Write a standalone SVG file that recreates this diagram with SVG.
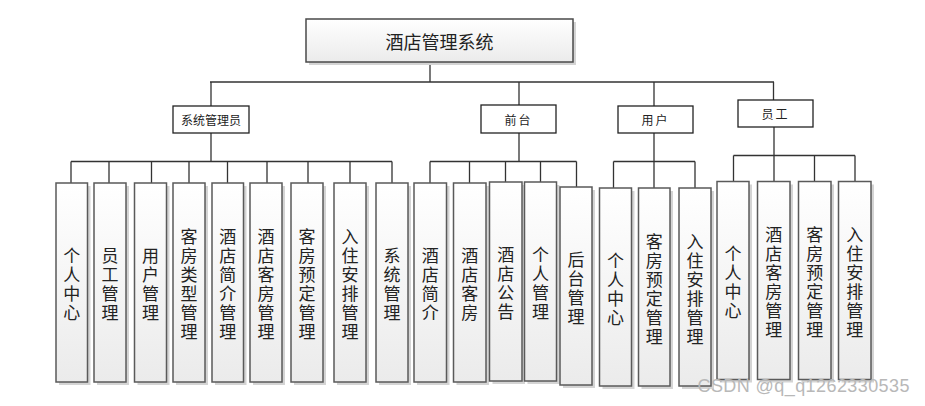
<svg xmlns="http://www.w3.org/2000/svg" width="925" height="406" viewBox="0 0 925 406">
<defs>
<linearGradient id="g" x1="0" y1="0" x2="0" y2="1">
<stop offset="0" stop-color="#ffffff"/>
<stop offset="1" stop-color="#ebebeb"/>
</linearGradient>
</defs>
<style>
text{font-family:"Noto Sans CJK SC","Liberation Sans",sans-serif;fill:#222;text-anchor:middle;dominant-baseline:central}
.leaf rect.b{fill:url(#g);stroke:#5a5a5a;stroke-width:1.5}
.sh{fill:#d4d4d4}
.leaf text{font-size:17px}
.l2 rect{fill:#fff;stroke:#222;stroke-width:1.3}
.l2 text{font-size:12px}
#conn path{fill:none;stroke:#333;stroke-width:1.3}
</style>
<rect width="925" height="406" fill="#fff"/>

<g id="conn">
<path d="M430 62V82M210 82H774M211 82V106M519 82V105M654 82V106M773.5 82V100"/>
<path d="M211 133V161.5M71 161.5H392M71 161.5V183M109 161.5V183M151.5 161.5V183M189 161.5V183M227.5 161.5V183M267 161.5V183M308 161.5V183M350 161.5V183M392 161.5V183"/>
<path d="M519 133V161.5M430 161.5H576.5M430 161.5V183M469.5 161.5V183M505.5 161.5V182M540.5 161.5V182M576.5 161.5V187"/>
<path d="M654 133V161.5M613.5 161.5H695M613.5 161.5V188M654 161.5V188M695 161.5V188"/>
<path d="M774 127V155.5M733.5 155.5H855M733.5 155.5V181.5M774 155.5V181.5M814.5 155.5V181.5M855 155.5V181.5"/>
</g>

<g id="root">
<rect x="309" y="22" width="267" height="43" class="sh"/>
<rect x="306" y="19" width="267" height="43" fill="url(#g)" stroke="#4a4a4a" stroke-width="1.5"/>
<text x="439.5" y="41" font-size="18">酒店管理系统</text>
</g>

<g id="admin" class="l2"><rect x="173" y="106" width="76" height="27"/><text x="211" y="119.5">系统管理员</text></g>
<g id="front" class="l2"><rect x="481" y="105" width="75" height="28"/><text x="518.5" y="119" letter-spacing="2">前台</text></g>
<g id="user" class="l2"><rect x="618" y="106" width="75" height="27"/><text x="655.5" y="119.5" letter-spacing="2">用户</text></g>
<g id="staff" class="l2"><rect x="738" y="100" width="75" height="27"/><text x="775.5" y="113.5" letter-spacing="2">员工</text></g>

<g id="a1" class="leaf"><rect class="sh" x="59" y="186" width="31.5" height="199"/><rect class="b" x="56" y="183" width="31.5" height="199"/><text x="71.75" y="282.5"><tspan x="71.75" dy="-28.5">个</tspan><tspan x="71.75" dy="19">人</tspan><tspan x="71.75" dy="19">中</tspan><tspan x="71.75" dy="19">心</tspan></text></g>
<g id="a2" class="leaf"><rect class="sh" x="97" y="186" width="32" height="199"/><rect class="b" x="94" y="183" width="32" height="199"/><text x="110" y="282.5"><tspan x="110" dy="-28.5">员</tspan><tspan x="110" dy="19">工</tspan><tspan x="110" dy="19">管</tspan><tspan x="110" dy="19">理</tspan></text></g>
<g id="a3" class="leaf"><rect class="sh" x="137.5" y="186" width="32" height="199"/><rect class="b" x="134.5" y="183" width="32" height="199"/><text x="150.5" y="282.5"><tspan x="150.5" dy="-28.5">用</tspan><tspan x="150.5" dy="19">户</tspan><tspan x="150.5" dy="19">管</tspan><tspan x="150.5" dy="19">理</tspan></text></g>
<g id="a4" class="leaf"><rect class="sh" x="176" y="186" width="32" height="199"/><rect class="b" x="173" y="183" width="32" height="199"/><text x="189" y="282.5"><tspan x="189" dy="-47.5">客</tspan><tspan x="189" dy="19">房</tspan><tspan x="189" dy="19">类</tspan><tspan x="189" dy="19">型</tspan><tspan x="189" dy="19">管</tspan><tspan x="189" dy="19">理</tspan></text></g>
<g id="a5" class="leaf"><rect class="sh" x="215" y="186" width="31.5" height="199"/><rect class="b" x="212" y="183" width="31.5" height="199"/><text x="227.75" y="282.5"><tspan x="227.75" dy="-47.5">酒</tspan><tspan x="227.75" dy="19">店</tspan><tspan x="227.75" dy="19">简</tspan><tspan x="227.75" dy="19">介</tspan><tspan x="227.75" dy="19">管</tspan><tspan x="227.75" dy="19">理</tspan></text></g>
<g id="a6" class="leaf"><rect class="sh" x="253" y="186" width="32" height="199"/><rect class="b" x="250" y="183" width="32" height="199"/><text x="266" y="282.5"><tspan x="266" dy="-47.5">酒</tspan><tspan x="266" dy="19">店</tspan><tspan x="266" dy="19">客</tspan><tspan x="266" dy="19">房</tspan><tspan x="266" dy="19">管</tspan><tspan x="266" dy="19">理</tspan></text></g>
<g id="a7" class="leaf"><rect class="sh" x="294" y="186" width="32" height="199"/><rect class="b" x="291" y="183" width="32" height="199"/><text x="307" y="282.5"><tspan x="307" dy="-47.5">客</tspan><tspan x="307" dy="19">房</tspan><tspan x="307" dy="19">预</tspan><tspan x="307" dy="19">定</tspan><tspan x="307" dy="19">管</tspan><tspan x="307" dy="19">理</tspan></text></g>
<g id="a8" class="leaf"><rect class="sh" x="337" y="186" width="32" height="199"/><rect class="b" x="334" y="183" width="32" height="199"/><text x="350" y="282.5"><tspan x="350" dy="-47.5">入</tspan><tspan x="350" dy="19">住</tspan><tspan x="350" dy="19">安</tspan><tspan x="350" dy="19">排</tspan><tspan x="350" dy="19">管</tspan><tspan x="350" dy="19">理</tspan></text></g>
<g id="a9" class="leaf"><rect class="sh" x="379" y="186" width="32" height="199"/><rect class="b" x="376" y="183" width="32" height="199"/><text x="392" y="282.5"><tspan x="392" dy="-28.5">系</tspan><tspan x="392" dy="19">统</tspan><tspan x="392" dy="19">管</tspan><tspan x="392" dy="19">理</tspan></text></g>

<g id="f1" class="leaf"><rect class="sh" x="417" y="186" width="32.5" height="199"/><rect class="b" x="414" y="183" width="32.5" height="199"/><text x="430.25" y="282.5"><tspan x="430.25" dy="-28.5">酒</tspan><tspan x="430.25" dy="19">店</tspan><tspan x="430.25" dy="19">简</tspan><tspan x="430.25" dy="19">介</tspan></text></g>
<g id="f2" class="leaf"><rect class="sh" x="456.5" y="186" width="32.5" height="199"/><rect class="b" x="453.5" y="183" width="32.5" height="199"/><text x="469.75" y="282.5"><tspan x="469.75" dy="-28.5">酒</tspan><tspan x="469.75" dy="19">店</tspan><tspan x="469.75" dy="19">客</tspan><tspan x="469.75" dy="19">房</tspan></text></g>
<g id="f3" class="leaf"><rect class="sh" x="492.5" y="185" width="32.5" height="199"/><rect class="b" x="489.5" y="182" width="32.5" height="199"/><text x="505.75" y="281.5"><tspan x="505.75" dy="-28.5">酒</tspan><tspan x="505.75" dy="19">店</tspan><tspan x="505.75" dy="19">公</tspan><tspan x="505.75" dy="19">告</tspan></text></g>
<g id="f4" class="leaf"><rect class="sh" x="527.5" y="185" width="32" height="199"/><rect class="b" x="524.5" y="182" width="32" height="199"/><text x="540.5" y="281.5"><tspan x="540.5" dy="-28.5">个</tspan><tspan x="540.5" dy="19">人</tspan><tspan x="540.5" dy="19">管</tspan><tspan x="540.5" dy="19">理</tspan></text></g>
<g id="f5" class="leaf"><rect class="sh" x="563" y="190" width="32" height="198"/><rect class="b" x="560" y="187" width="32" height="198"/><text x="576" y="286"><tspan x="576" dy="-28.5">后</tspan><tspan x="576" dy="19">台</tspan><tspan x="576" dy="19">管</tspan><tspan x="576" dy="19">理</tspan></text></g>

<g id="u1" class="leaf"><rect class="sh" x="602.5" y="191" width="32" height="198"/><rect class="b" x="599.5" y="188" width="32" height="198"/><text x="615.5" y="287"><tspan x="615.5" dy="-28.5">个</tspan><tspan x="615.5" dy="19">人</tspan><tspan x="615.5" dy="19">中</tspan><tspan x="615.5" dy="19">心</tspan></text></g>
<g id="u2" class="leaf"><rect class="sh" x="641.5" y="191" width="31.5" height="198"/><rect class="b" x="638.5" y="188" width="31.5" height="198"/><text x="654.25" y="287"><tspan x="654.25" dy="-47.5">客</tspan><tspan x="654.25" dy="19">房</tspan><tspan x="654.25" dy="19">预</tspan><tspan x="654.25" dy="19">定</tspan><tspan x="654.25" dy="19">管</tspan><tspan x="654.25" dy="19">理</tspan></text></g>
<g id="u3" class="leaf"><rect class="sh" x="682" y="191" width="32" height="198"/><rect class="b" x="679" y="188" width="32" height="198"/><text x="695" y="287"><tspan x="695" dy="-47.5">入</tspan><tspan x="695" dy="19">住</tspan><tspan x="695" dy="19">安</tspan><tspan x="695" dy="19">排</tspan><tspan x="695" dy="19">管</tspan><tspan x="695" dy="19">理</tspan></text></g>

<g id="s1" class="leaf"><rect class="sh" x="720" y="184.5" width="32" height="198"/><rect class="b" x="717" y="181.5" width="32" height="198"/><text x="733" y="280.5"><tspan x="733" dy="-28.5">个</tspan><tspan x="733" dy="19">人</tspan><tspan x="733" dy="19">中</tspan><tspan x="733" dy="19">心</tspan></text></g>
<g id="s2" class="leaf"><rect class="sh" x="760.5" y="184.5" width="32.5" height="198"/><rect class="b" x="757.5" y="181.5" width="32.5" height="198"/><text x="773.75" y="280.5"><tspan x="773.75" dy="-47.5">酒</tspan><tspan x="773.75" dy="19">店</tspan><tspan x="773.75" dy="19">客</tspan><tspan x="773.75" dy="19">房</tspan><tspan x="773.75" dy="19">管</tspan><tspan x="773.75" dy="19">理</tspan></text></g>
<g id="s3" class="leaf"><rect class="sh" x="801.5" y="184.5" width="32.5" height="198"/><rect class="b" x="798.5" y="181.5" width="32.5" height="198"/><text x="814.75" y="280.5"><tspan x="814.75" dy="-47.5">客</tspan><tspan x="814.75" dy="19">房</tspan><tspan x="814.75" dy="19">预</tspan><tspan x="814.75" dy="19">定</tspan><tspan x="814.75" dy="19">管</tspan><tspan x="814.75" dy="19">理</tspan></text></g>
<g id="s4" class="leaf"><rect class="sh" x="841.5" y="184.5" width="32.5" height="198"/><rect class="b" x="838.5" y="181.5" width="32.5" height="198"/><text x="854.75" y="280.5"><tspan x="854.75" dy="-47.5">入</tspan><tspan x="854.75" dy="19">住</tspan><tspan x="854.75" dy="19">安</tspan><tspan x="854.75" dy="19">排</tspan><tspan x="854.75" dy="19">管</tspan><tspan x="854.75" dy="19">理</tspan></text></g>

<text x="803.5" y="386" font-size="18" style="fill:#b8b8b8;font-family:'Liberation Sans',sans-serif" textLength="212">CSDN @q_q1262330535</text>
</svg>
